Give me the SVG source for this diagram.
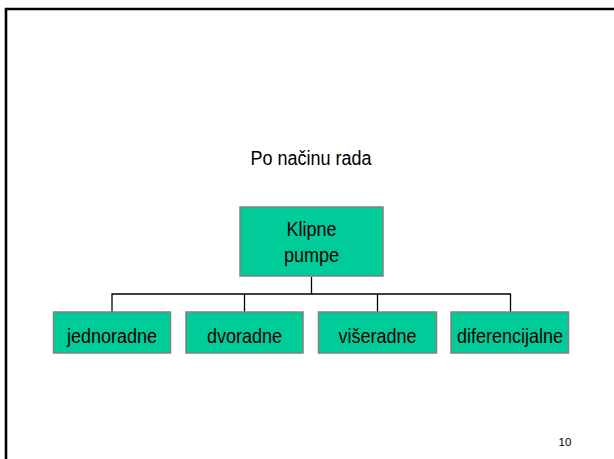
<svg xmlns="http://www.w3.org/2000/svg" width="614" height="459" viewBox="0 0 614 459">
  <style>
    .box { fill: #00CC99; stroke: #808080; stroke-width: 1.5; }
    .lbl { font-family: "Liberation Sans", Arial, sans-serif; font-size: 18px; fill: #000; text-anchor: middle; }
    .conn { stroke: #000; stroke-width: 1.3; fill: none; }
  </style>
  <rect width="614" height="459" fill="#fff"/>
  <path d="M6,459 V9 H614" fill="none" stroke="#000" stroke-width="2.6"/>
  <text class="lbl" transform="translate(311,165) scale(1,1.1)">Po načinu rada</text>
  <g id="connectors">
    <path class="conn" d="M311.5,277 V294"/>
    <path class="conn" d="M112,312 V294 H510.5 V312"/>
    <path class="conn" d="M244.5,294 V312"/>
    <path class="conn" d="M377.5,294 V312"/>
  </g>
  <g id="klipne-pumpe">
    <rect class="box" x="240" y="207" width="143" height="69"/>
    <text class="lbl" transform="translate(311.5,235.5) scale(1,1.12)">Klipne</text>
    <text class="lbl" transform="translate(311.5,261.5) scale(1,1.12)">pumpe</text>
  </g>
  <g id="jednoradne">
    <rect class="box" x="53.5" y="312" width="117" height="41"/>
    <text class="lbl" transform="translate(112,343) scale(1,1.12)">jednoradne</text>
  </g>
  <g id="dvoradne">
    <rect class="box" x="186" y="312" width="117" height="41"/>
    <text class="lbl" transform="translate(244.5,343) scale(1,1.12)">dvoradne</text>
  </g>
  <g id="viseradne">
    <rect class="box" x="318.5" y="312" width="118" height="41"/>
    <text class="lbl" transform="translate(377.5,343) scale(1,1.12)">višeradne</text>
  </g>
  <g id="diferencijalne">
    <rect class="box" x="451" y="312" width="117.5" height="41"/>
    <text class="lbl" transform="translate(510,343) scale(1,1.12)">diferencijalne</text>
  </g>
  <text x="565" y="446" font-family="Liberation Sans, Arial, sans-serif" font-size="11.5" text-anchor="middle" fill="#000">10</text>
</svg>
